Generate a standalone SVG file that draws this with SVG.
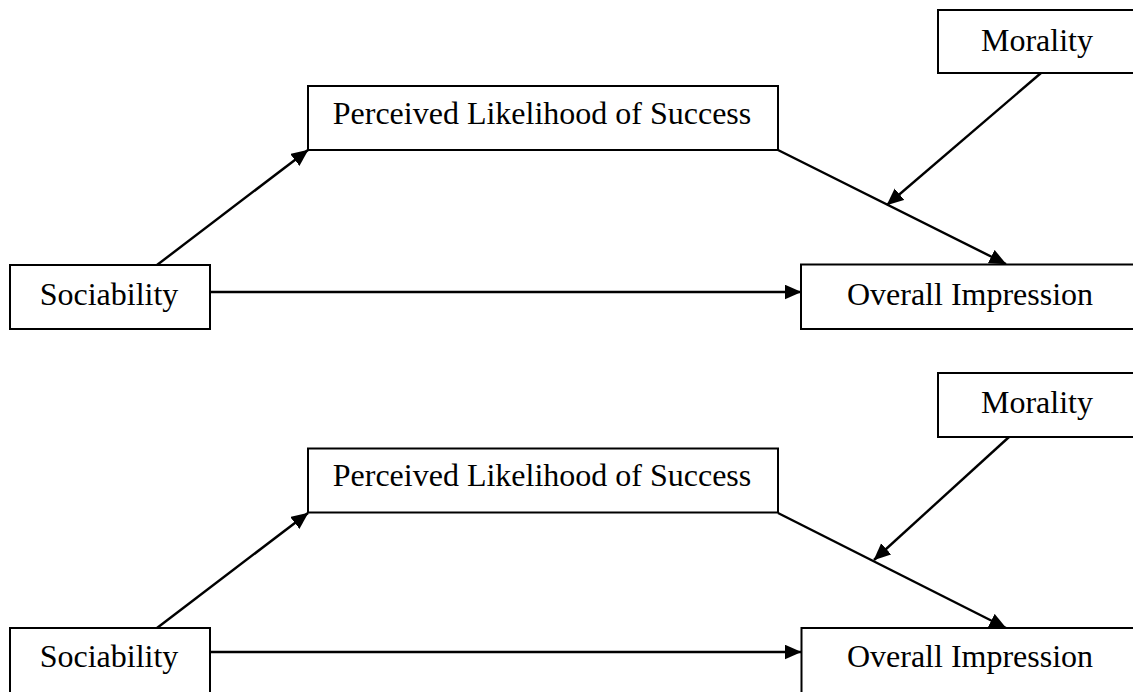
<svg xmlns="http://www.w3.org/2000/svg" width="1133" height="692" viewBox="0 0 1133 692">
<style>
.box{fill:#fff;stroke:#000;stroke-width:2}
.lbl{font-family:"Liberation Serif","Times New Roman",serif;font-size:32px;fill:#000;text-anchor:middle}
.ln{stroke:#000;stroke-width:2.4;fill:none;marker-end:url(#ah)}
</style>
<defs>
<marker id="ah" markerUnits="userSpaceOnUse" markerWidth="18" markerHeight="16" refX="16.5" refY="7.5" orient="auto">
<path d="M0,0 L17,7.5 L0,15 z" fill="#000"/>
</marker>
</defs>
<rect width="1133" height="692" fill="#fff"/>
<g id="connectors">
<line class="ln" x1="157" y1="265" x2="308" y2="150"/>
<line class="ln" x1="210" y1="292" x2="801" y2="292"/>
<line class="ln" x1="778" y1="150" x2="1006" y2="264"/>
<line class="ln" x1="1041" y1="73" x2="887" y2="205"/>
<line class="ln" x1="157" y1="628" x2="308" y2="513"/>
<line class="ln" x1="210" y1="652" x2="801" y2="652"/>
<line class="ln" x1="778" y1="513" x2="1006" y2="628"/>
<line class="ln" x1="1009" y1="437" x2="874" y2="560"/>
</g>
<g id="morality1"><rect class="box" x="938" y="10" width="220" height="63"/><text class="lbl" x="1037" y="51">Morality</text></g>
<g id="perceived1"><rect class="box" x="308" y="86" width="470" height="64"/><text class="lbl" x="542" y="124">Perceived Likelihood of Success</text></g>
<g id="sociability1"><rect class="box" x="10" y="265" width="200" height="64"/><text class="lbl" x="109" y="305">Sociability</text></g>
<g id="overall1"><rect class="box" x="801" y="264.5" width="360" height="64.5"/><text class="lbl" x="970" y="305">Overall Impression</text></g>
<g id="morality2"><rect class="box" x="938" y="373" width="220" height="64"/><text class="lbl" x="1037" y="413">Morality</text></g>
<g id="perceived2"><rect class="box" x="308" y="448.5" width="470" height="64"/><text class="lbl" x="542" y="486">Perceived Likelihood of Success</text></g>
<g id="sociability2"><rect class="box" x="10" y="628" width="200" height="80"/><text class="lbl" x="109" y="667">Sociability</text></g>
<g id="overall2"><rect class="box" x="801.5" y="628" width="360" height="80"/><text class="lbl" x="970" y="667">Overall Impression</text></g>
</svg>
